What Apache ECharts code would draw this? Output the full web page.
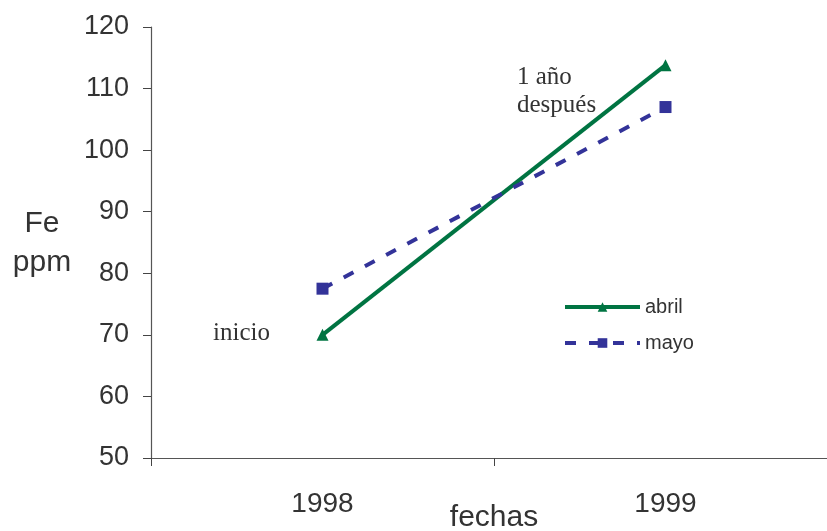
<!DOCTYPE html>
<html>
<head>
<meta charset="utf-8">
<script src="https://cdn.jsdelivr.net/npm/echarts@6/dist/echarts.min.js"></script>
<style>html,body{margin:0;padding:0;background:#fff;overflow:hidden;}#c{width:827px;height:531px;}</style>
</head>
<body>
<div id="c"></div>
<script>
const categories = ['1998', '1999'];
const abril = [70, 113.8];
const mayo = [77.5, 107];
const yTicks = { min: 50, max: 120, interval: 10 };

const chart = echarts.init(document.getElementById('c'));
const font = '"Liberation Sans", Arial, sans-serif';
const serif = '"Liberation Serif", "Times New Roman", serif';
chart.setOption({
  animation: false,
  backgroundColor: '#ffffff',
  grid: { left: 151, top: 27, width: 686, height: 431, containLabel: false, outerBoundsMode: 'none' },
  xAxis: {
    type: 'category',
    data: categories,
    boundaryGap: true,
    name: 'fechas',
    nameLocation: 'middle',
    nameGap: 60,
    nameMoveOverlap: false,
    nameTextStyle: { fontFamily: font, fontSize: 30, color: '#333', verticalAlign: 'middle' },
    axisLine: { lineStyle: { color: '#555', width: 1.2 } },
    axisTick: { show: true, length: 8, lineStyle: { color: '#444' } },
    axisLabel: { fontFamily: font, fontSize: 28, color: '#333', margin: 32 }
  },
  yAxis: {
    type: 'value',
    min: yTicks.min, max: yTicks.max, interval: yTicks.interval,
    splitLine: { show: false },
    axisLine: { show: true, lineStyle: { color: '#555', width: 1.2 } },
    axisTick: { show: true, length: 8, lineStyle: { color: '#444' } },
    axisLabel: { fontFamily: font, fontSize: 27, color: '#333', margin: 22 }
  },
  legend: {
    orient: 'vertical',
    left: 558, top: 292,
    itemWidth: 75, itemHeight: 12,
    itemGap: 16,
    lineStyle: { width: 4 },
    textStyle: { fontFamily: font, fontSize: 20, color: '#333' },
    data: ['abril', 'mayo']
  },
  series: [
    {
      name: 'abril', type: 'line', data: abril,
      symbol: 'triangle', symbolSize: 12,
      lineStyle: { color: '#007442', width: 4 },
      itemStyle: { color: '#007442' }
    },
    {
      name: 'mayo', type: 'line', data: mayo,
      symbol: 'rect', symbolSize: 12,
      lineStyle: { color: '#333399', width: 4, type: [11, 13] },
      itemStyle: { color: '#333399' }
    }
  ],
  graphic: [
    { type: 'text', x: 42, y: 224, style: { text: 'Fe', font: '30px ' + font, fill: '#333', align: 'center', verticalAlign: 'middle' } },
    { type: 'text', x: 42, y: 263, style: { text: 'ppm', font: '30px ' + font, fill: '#333', align: 'center', verticalAlign: 'middle' } },
    { type: 'text', x: 517, y: 77, style: { text: '1 año', font: '25px ' + serif, fill: '#333', verticalAlign: 'middle' } },
    { type: 'text', x: 517, y: 105, style: { text: 'después', font: '25px ' + serif, fill: '#333', verticalAlign: 'middle' } },
    { type: 'text', x: 213, y: 333, style: { text: 'inicio', font: '25px ' + serif, fill: '#333', verticalAlign: 'middle' } }
  ]
});
</script>
</body>
</html>
